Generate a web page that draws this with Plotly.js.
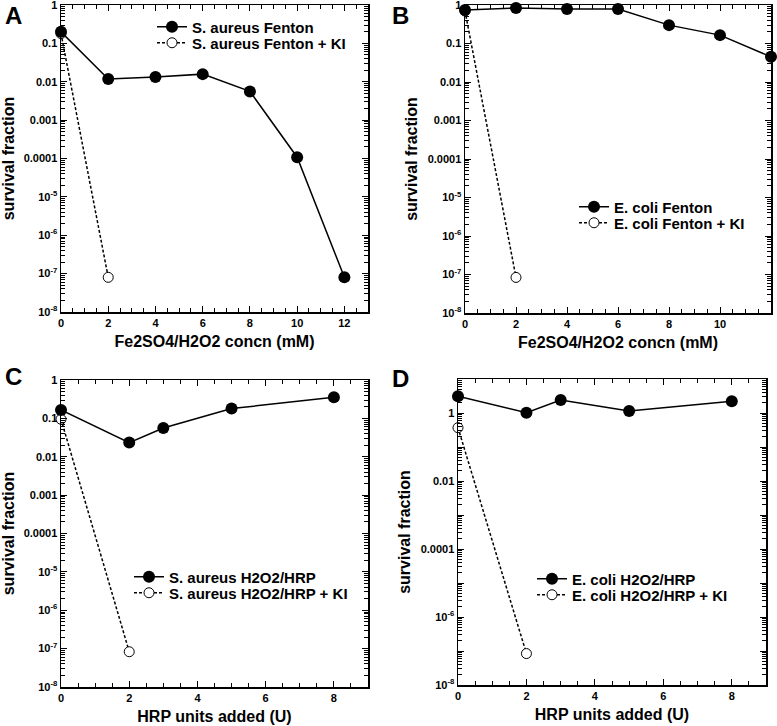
<!DOCTYPE html>
<html><head><meta charset="utf-8">
<script src="https://cdn.plot.ly/plotly-3.0.1.min.js"></script>
<style>body{margin:0;background:#fff}#chart{width:777px;height:726px}</style>
</head><body><div id="chart"></div>
<script>
// Panel A: S. aureus Fenton
const fentonX = [0, 2, 4, 6, 8, 10, 12];
const aFenton = [0.20, 0.0118, 0.0133, 0.0158, 0.0056, 0.000108, 8e-8];
const kiX = [0, 2];
const aFentonKI = [0.18, 8e-8];
// Panel B: E. coli Fenton
const bFenton = [0.74, 0.84, 0.79, 0.79, 0.30, 0.165, 0.045];
const bFentonKI = [0.70, 8.4e-8];
// Panel C: S. aureus H2O2/HRP
const hrpX = [0, 2, 3, 5, 8];
const cHRP = [0.165, 0.0234, 0.056, 0.18, 0.354];
const cHRPKI = [0.095, 8.3e-8];
// Panel D: E. coli H2O2/HRP
const dHRP = [3.1, 1.02, 2.4, 1.14, 2.2];
const dHRPKI = [0.37, 8.4e-8];

const yTickVals = [1, 0.1, 0.01, 0.001, 0.0001, 1e-5, 1e-6, 1e-7, 1e-8];
const yTickText = ['1', '0.1', '0.01', '0.001', '0.0001', '10<sup>-5</sup>', '10<sup>-6</sup>', '10<sup>-7</sup>', '10<sup>-8</sup>'];
const dTickVals = [10, 1, 0.1, 0.01, 0.001, 0.0001, 1e-5, 1e-6, 1e-7, 1e-8];
const dTickText = ['', '1', '', '0.01', '', '0.0001', '', '10<sup>-6</sup>', '', '10<sup>-8</sup>'];

const names = {
  a: ['S. aureus Fenton', 'S. aureus Fenton + KI'],
  b: ['E. coli Fenton', 'E. coli Fenton + KI'],
  c: ['S. aureus H2O2/HRP', 'S. aureus H2O2/HRP + KI'],
  d: ['E. coli H2O2/HRP', 'E. coli H2O2/HRP + KI']
};

const FONT = 'Liberation Sans, Arial, sans-serif';
function pair(xs, ys, xk, yk, kiy, nm, legMain, legKI) {
  return [
    {x: kiX, y: kiy, xaxis: xk, yaxis: yk, name: nm[1], legend: legKI, cliponaxis: false,
     mode: 'lines+markers', line: {color: '#000', width: 1.5, dash: '3px,2px'},
     marker: {symbol: 'circle', size: 10, color: '#fff', line: {color: '#000', width: 1}}},
    {x: xs, y: ys, xaxis: xk, yaxis: yk, name: nm[0], legend: legMain, cliponaxis: false,
     mode: 'lines+markers', line: {color: '#000', width: 1.5},
     marker: {symbol: 'circle', size: 12, color: '#000'}}
  ];
}
const data = [].concat(
  pair(fentonX, aFenton, 'x', 'y', aFentonKI, names.a, 'legend', 'legend2'),
  pair(fentonX, bFenton, 'x2', 'y2', bFentonKI, names.b, 'legend3', 'legend4'),
  pair(hrpX, cHRP, 'x3', 'y3', cHRPKI, names.c, 'legend5', 'legend6'),
  pair(hrpX, dHRP, 'x4', 'y4', dHRPKI, names.d, 'legend7', 'legend8')
);

function minorLog(lo, hi) {
  const v = [];
  for (let d = lo; d < hi; d++) for (let k = 2; k <= 9; k++) v.push(k * Math.pow(10, d));
  return v;
}

const W = 777, H = 726;
function xd(l, r) { return [l / W, r / W]; }
function yd(t, b) { return [(H - b) / H, (H - t) / H]; }
const tickFont = {family: FONT, size: 11, color: '#000', weight: 'bold'};
const titleFont = {family: FONT, size: 16, color: '#000', weight: 'bold'};
function xax(dom, range, title, anchor) {
  return {domain: dom, range: range, anchor: anchor, showgrid: false, zeroline: false,
    showline: true, linecolor: '#000', linewidth: 1.5, mirror: 'ticks',
    ticks: 'inside', ticklen: 6, tickwidth: 1, tickcolor: '#000', dtick: 2, tick0: 0,
    tickfont: tickFont, title: {text: title, font: titleFont, standoff: 8},
    minor: {ticks: 'inside', ticklen: 4, tickwidth: 1, tickcolor: '#000', dtick: 0.5, tick0: 0, showgrid: false}};
}
function yax(dom, range, tv, tt, anchor) {
  return {domain: dom, type: 'log', range: range, anchor: anchor, showgrid: false, zeroline: false,
    showline: true, linecolor: '#000', linewidth: 1.5, mirror: 'ticks',
    ticks: 'inside', ticklen: 6, tickwidth: 1, tickcolor: '#000',
    tickmode: 'array', tickvals: tv, ticktext: tt, ticklabeloverflow: 'allow',
    tickfont: tickFont, title: {text: 'survival fraction', font: titleFont, standoff: 6},
    minor: {ticks: 'inside', ticklen: 4, tickwidth: 1, tickcolor: '#000', tickmode: 'array',
      tickvals: minorLog(range[0], range[1]), showgrid: false}};
}
const legFont = {family: FONT, size: 15, color: '#000', weight: 'bold'};
function leg(x, rowY) {
  return {x: x / W, y: 1 - (rowY - 16.5) / H, xanchor: 'left', yanchor: 'top', xref: 'paper', yref: 'paper',
    bgcolor: 'rgba(0,0,0,0)', font: legFont, tracegroupgap: 0, itemwidth: 30};
}
const layout = {
  width: W, height: H, margin: {l: 0, r: 0, t: 0, b: 0},
  paper_bgcolor: '#fff', plot_bgcolor: '#fff', showlegend: true,
  xaxis: xax(xd(61, 368), [0, 13], 'Fe2SO4/H2O2 concn (mM)', 'y'),
  yaxis: yax(yd(5, 312), [-8, 0], yTickVals, yTickText, 'x'),
  xaxis2: xax(xd(465, 771), [0, 12], 'Fe2SO4/H2O2 concn (mM)', 'y2'),
  yaxis2: yax(yd(5, 313), [-8, 0], yTickVals, yTickText, 'x2'),
  xaxis3: xax(xd(61, 368), [0, 9], 'HRP units added (U)', 'y3'),
  yaxis3: yax(yd(380, 687), [-8, 0], yTickVals, yTickText, 'x3'),
  xaxis4: xax(xd(458, 766), [0, 9], 'HRP units added (U)', 'y4'),
  yaxis4: yax(yd(379, 685), [-8, 1], dTickVals, dTickText, 'x4'),
  legend: leg(152, 27), legend2: leg(152, 43),
  legend3: leg(574, 207), legend4: leg(574, 223),
  legend5: leg(129, 577), legend6: leg(129, 593),
  legend7: leg(532, 579), legend8: leg(532, 595),
  annotations: [
    ['A', 3, 15], ['B', 390, 15], ['C', 3, 376], ['D', 390, 378]
  ].map(a => ({text: a[0], x: a[1] / W, y: 1 - a[2] / H, xref: 'paper', yref: 'paper',
    xanchor: 'left', yanchor: 'middle', showarrow: false,
    font: {family: FONT, size: 24, color: '#000', weight: 'bold'}}))
};
Plotly.newPlot('chart', data, layout, {staticPlot: true});
</script></body></html>
